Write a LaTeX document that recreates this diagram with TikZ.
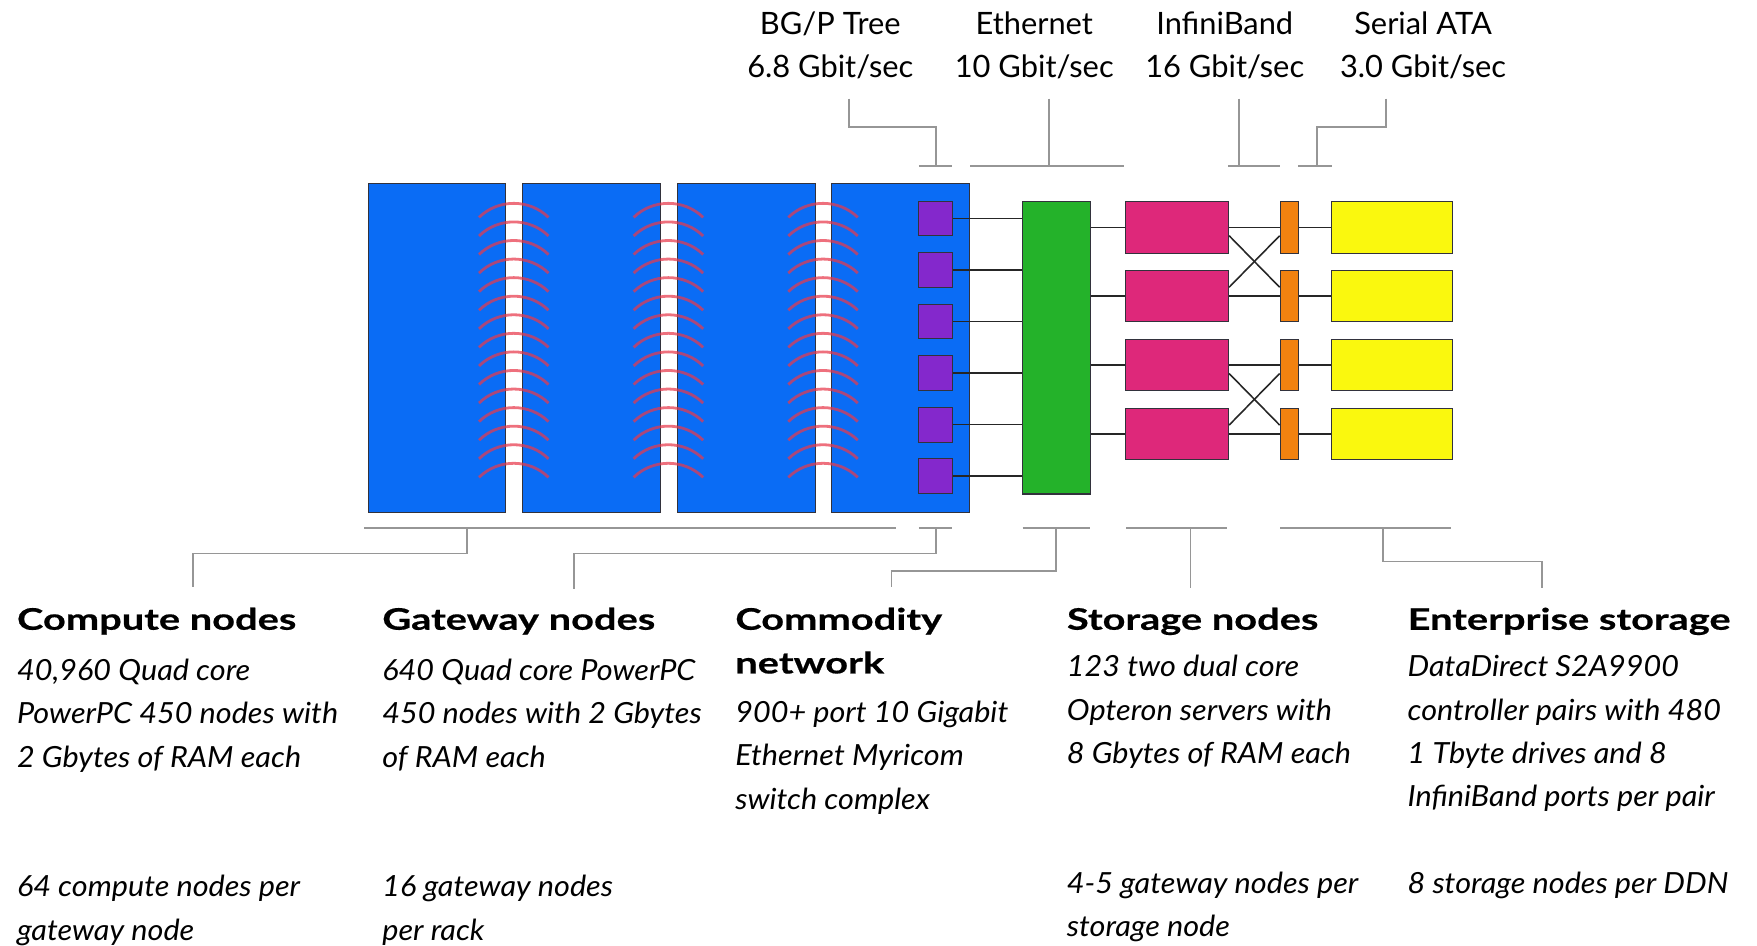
\documentclass[tikz,border=0pt]{standalone}
\usepackage{fontspec}
\setmainfont{Lato}
\newfontfamily\titlefont[FakeStretch=1.34,FakeBold=0.5]{Lato}
\newfontfamily\descfont[FakeStretch=1.05]{Lato}
\definecolor{cblue}{RGB}{10,108,245}
\definecolor{cpurple}{RGB}{132,40,204}
\definecolor{cgreen}{RGB}{36,178,42}
\definecolor{cmag}{RGB}{222,40,122}
\definecolor{corange}{RGB}{242,130,16}
\definecolor{cyellow}{RGB}{250,248,14}
\definecolor{cred}{RGB}{232,58,76}
\definecolor{brkgray}{RGB}{150,150,150}
\definecolor{edge}{RGB}{50,50,60}
\tikzset{
  box/.style={draw=edge, line width=0.9, inner sep=0, anchor=north west},
  cbox/.style={box, fill=cblue, minimum width=123, minimum height=293},
  pbox/.style={box, fill=cpurple, minimum width=31, minimum height=31},
  gbox/.style={box, fill=cgreen, minimum width=61, minimum height=261},
  mbox/.style={box, fill=cmag, minimum width=92, minimum height=46},
  obox/.style={box, fill=corange, minimum width=16, minimum height=46},
  ybox/.style={box, fill=cyellow, minimum width=108, minimum height=46},
  link/.style={draw=black!85, line width=1.4},
  brk/.style={draw=brkgray, line width=1.6},
  ray/.style={draw=cred, line width=2.5, opacity=0.72},
  lbl/.style={font=\fontsize{27.5}{30}\selectfont, inner sep=0, anchor=base},
  ttl/.style={font=\titlefont\bfseries\fontsize{26.5}{30}\selectfont, inner sep=0, anchor=base west},
  dsc/.style={font=\descfont\itshape\fontsize{26}{30}\selectfont, inner sep=0, anchor=base west},
}
\begin{document}
\begin{tikzpicture}[x=1pt,y=-1pt]
\fill[white] (0,0) rectangle (1568,844);
\useasboundingbox (0,0) rectangle (1568,844);

% compute racks
\foreach \i in {0,...,3}{
  \node[cbox] (rack\i) at ({328+138*\i},163.5) {};
}
% gateway nodes
\foreach \j in {0,...,5}{
  \node[pbox] (gw\j) at (819,{179+46*\j}) {};
}
% tree links (arcs)
\foreach \g in {458.5,596.5,734.5}{
  \foreach \n in {0,...,14}{
    \pgfmathsetmacro\ay{181.5+16.57*\n}
    \draw[ray] ({\g-31},{\ay+12.5}) .. controls ({\g-14},{\ay-4.2}) and ({\g+14},{\ay-4.2}) .. ({\g+31},{\ay+12.5});
  }
}
% switch
\node[gbox] (sw) at (912,179.4) {};
% storage / infiniband / ddn
\foreach \k in {0,...,3}{
  \node[mbox] (st\k) at (1004,{179.4+61.5*\k}) {};
  \node[obox] (ib\k) at (1142,{179.4+61.5*\k}) {};
  \node[ybox] (dd\k) at (1188,{179.4+61.5*\k}) {};
}
% links
\foreach \j in {0,...,5}{
  \draw[link] (gw\j.east) -- (sw.west |- gw\j.east);
}
\foreach \k in {0,...,3}{
  \draw[link] (sw.east |- st\k.west) -- (st\k.west);
  \draw[link] (st\k.east) -- (ib\k.west);
  \draw[link] (ib\k.east) -- (dd\k.west);
}
\draw[link] ([yshift=-7.5pt]st0.east) -- ([yshift=8pt]ib1.west);
\draw[link] ([yshift=8pt]st1.east) -- ([yshift=-7.5pt]ib0.west);
\draw[link] ([yshift=-7.5pt]st2.east) -- ([yshift=8pt]ib3.west);
\draw[link] ([yshift=8pt]st3.east) -- ([yshift=-7.5pt]ib2.west);

% top labels
\node[lbl] (bg1) at (741,31) {BG/P Tree};
\node[lbl] (bg2) at (741,69) {6.8 Gbit/sec};
\node[lbl] (et1) at (923,31) {Ethernet};
\node[lbl] (et2) at (923,69) {10 Gbit/sec};
\node[lbl] (in1) at (1093,31) {InfiniBand};
\node[lbl] (in2) at (1093,69) {16 Gbit/sec};
\node[lbl] (sa1) at (1270,31) {Serial ATA};
\node[lbl] (sa2) at (1270,69) {3.0 Gbit/sec};

% top brackets
\coordinate (bgT) at (758,88);
\coordinate (bgK) at (835,148);
\draw[brk] (bgT) |- (835,113.5) -- (bgK);
\draw[brk] (820,148) -- (850,148);
\coordinate (etT) at (936,88);
\coordinate (etK) at (936,148);
\draw[brk] (etT) -- (etK);
\draw[brk] (866,148) -- (1003,148);
\coordinate (inT) at (1106,88);
\coordinate (inK) at (1106,148);
\draw[brk] (inT) -- (inK);
\draw[brk] (1096,148) -- (1142,148);
\coordinate (saT) at (1237,88);
\coordinate (saK) at (1175,148);
\draw[brk] (saT) |- (1175,113.5) -- (saK);
\draw[brk] (1158.5,148) -- (1188.5,148);

% bottom brackets
\draw[brk] (325,471) -- (800,471);
\coordinate (cpK) at (416.5,471);
\coordinate (cpE) at (172.5,524);
\draw[brk] (cpK) -- (416.5,494) -| (cpE);
\draw[brk] (820,471) -- (850,471);
\coordinate (gwK) at (835,471);
\coordinate (gwE) at (512,526);
\draw[brk] (gwK) -- (835,494) -| (gwE);
\draw[brk] (912.5,471) -- (972.5,471);
\coordinate (cnK) at (942.5,471);
\coordinate (cnE) at (795.5,524);
\draw[brk] (cnK) -- (942.5,509.5) -| (cnE);
\draw[brk] (1005,471) -- (1095,471);
\coordinate (snK) at (1062.5,471);
\coordinate (snE) at (1062.5,525);
\draw[brk] (snK) -- (snE);
\draw[brk] (1142.5,471) -- (1294.5,471);
\coordinate (esK) at (1234.5,471);
\coordinate (esE) at (1376,525);
\draw[brk] (esK) -- (1234.5,501) -| (esE);

% bottom texts
\node[ttl] (cpT) at (15,562) {Compute nodes};
\foreach \t [count=\i from 0] in {{40,960 Quad core},{PowerPC 450 nodes with},{2 Gbytes of RAM each}}{
  \node[dsc] (cpD\i) at (15,{607+39*\i}) {\t};
}
\foreach \t [count=\i from 0] in {{64 compute nodes per},{gateway node}}{
  \node[dsc] (cpN\i) at (15,{800+39*\i}) {\t};
}
\node[ttl] (gwT) at (341,562) {Gateway nodes};
\foreach \t [count=\i from 0] in {{640 Quad core PowerPC},{450 nodes with 2 Gbytes},{of RAM each}}{
  \node[dsc] (gwD\i) at (341,{607+39*\i}) {\t};
}
\foreach \t [count=\i from 0] in {{16 gateway nodes},{per rack}}{
  \node[dsc] (gwN\i) at (341,{800+39*\i}) {\t};
}
\node[ttl] (cnT0) at (656,562) {Commodity};
\node[ttl] (cnT1) at (656,601) {network};
\foreach \t [count=\i from 0] in {{900+ port 10 Gigabit},{Ethernet Myricom},{switch complex}}{
  \node[dsc] (cnD\i) at (656,{645+38.5*\i}) {\t};
}
\node[ttl] (snT) at (952,562) {Storage nodes};
\foreach \t [count=\i from 0] in {{123 two dual core},{Opteron servers with},{8 Gbytes of RAM each}}{
  \node[dsc] (snD\i) at (952,{604+38.7*\i}) {\t};
}
\foreach \t [count=\i from 0] in {{4-5 gateway nodes per},{storage node}}{
  \node[dsc] (snN\i) at (952,{797+38.5*\i}) {\t};
}
\node[ttl] (esT) at (1256,562) {Enterprise storage};
\foreach \t [count=\i from 0] in {{DataDirect S2A9900},{controller pairs with 480},{1 Tbyte drives and 8},{InfiniBand ports per pair}}{
  \node[dsc] (esD\i) at (1256,{604+38.7*\i}) {\t};
}
\node[dsc] (esN0) at (1256,797) {8 storage nodes per DDN};
\end{tikzpicture}
\end{document}
